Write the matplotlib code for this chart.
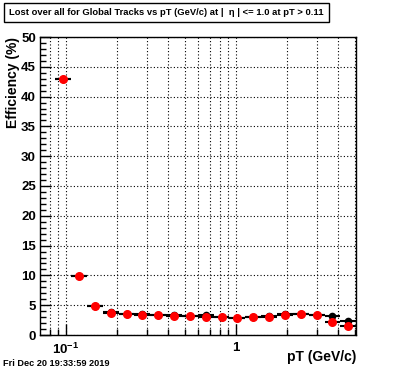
import numpy as np
import matplotlib
matplotlib.use("Agg")
import matplotlib.pyplot as plt
from matplotlib.ticker import FixedLocator, NullFormatter, LogLocator

plt.rcParams['font.family'] = ['Liberation Sans', 'DejaVu Sans']
plt.rcParams['font.weight'] = 'bold'
plt.rcParams['mathtext.fontset'] = 'custom'
plt.rcParams['mathtext.rm'] = 'Liberation Sans:bold'
plt.rcParams['mathtext.bf'] = 'Liberation Sans:bold'

# bin centres in pT (GeV/c), log spaced
pt = [0.096, 0.119, 0.1475, 0.183, 0.227, 0.281, 0.348, 0.4315, 0.535, 0.663,
      0.822, 1.018, 1.262, 1.564, 1.939, 2.404, 2.979, 3.693, 4.577]
# lost fraction (%), two overlaid histograms
eff_black = [43.0, 9.9, 4.87, 3.9, 3.55, 3.6, 3.35, 3.4, 3.15, 3.3,
             3.05, 2.92, 2.98, 3.25, 3.5, 3.5, 3.35, 3.24, 2.35]
eff_red = [43.0, 9.9, 4.87, 3.74, 3.52, 3.41, 3.31, 3.19, 3.14, 3.07,
           3.02, 2.90, 2.97, 3.02, 3.36, 3.47, 3.31, 2.13, 1.46]

title = "Lost over all for Global Tracks vs pT (GeV/c) at |  \u03b7 | <= 1.0 at pT > 0.11"
stamp = "Fri Dec 20 19:33:59 2019"

pt = np.array(pt)
half = 10 ** 0.0466  # half bin width in log
xerr = [pt - pt / half, pt * half - pt]

fig = plt.figure(figsize=(3.96, 3.72), dpi=100)
ax = fig.add_axes([40/396, 37/372, 316/396, 298/372])

ax.errorbar(pt, eff_black, xerr=xerr, fmt='none', ecolor='black', elinewidth=1.5, capsize=0, zorder=3)
ax.errorbar(pt, eff_red, xerr=xerr, fmt='none', ecolor='black', elinewidth=1.5, capsize=0, zorder=3)
ax.plot(pt, eff_black, 'o', color='black', ms=5.5, mew=0, zorder=4)
ax.plot(pt, eff_red, 'o', color='red', ms=6.5, mew=0, zorder=5)

ax.set_xscale('log')
ax.set_xlim(0.0703, 5.08)
ax.set_ylim(0, 50)
ax.yaxis.set_major_locator(FixedLocator(np.arange(0, 51, 5)))
ax.yaxis.set_minor_locator(FixedLocator(np.arange(0, 51, 1)))
ax.xaxis.set_major_locator(FixedLocator([0.1, 1]))
ax.xaxis.set_minor_locator(LogLocator(base=10, subs=np.arange(2, 10)))
ax.xaxis.set_minor_formatter(NullFormatter())
ax.set_xticklabels([r'$10^{-1}$', '1'])

ax.tick_params(which='major', direction='in', length=8, width=1, labelsize=9.5, pad=3)
ax.tick_params(which='minor', direction='in', length=4, width=1)
ax.tick_params(axis='x', which='major', pad=5)
for lab in ax.get_yticklabels() + ax.get_xticklabels():
    lab.set_fontweight('bold')

ax.grid(True, which='major', axis='y', color='black', linestyle=(0, (1, 2)), linewidth=0.8)
ax.grid(True, which='both', axis='x', color='black', linestyle=(0, (1, 2)), linewidth=0.8)
for s in ax.spines.values():
    s.set_linewidth(1)

fig.text(356/396, 1 - 357/372, "pT (GeV/c)", ha='right', va='center', fontsize=10, fontweight='bold')
fig.text(13/396, 1 - 37/372, "Efficiency (%)", ha='center', va='top', rotation=90, fontsize=10, fontweight='bold')

fig.text(9/396, 1 - 12.5/372, title, ha='left', va='center', fontsize=6.75, fontweight='bold',
         bbox=dict(boxstyle='square,pad=0.55', facecolor='white', edgecolor='black', linewidth=1))
fig.text(3/396, 1 - 364/372, stamp, ha='left', va='center', fontsize=6.6, fontweight='bold')

fig.savefig("out.png", dpi=100)
